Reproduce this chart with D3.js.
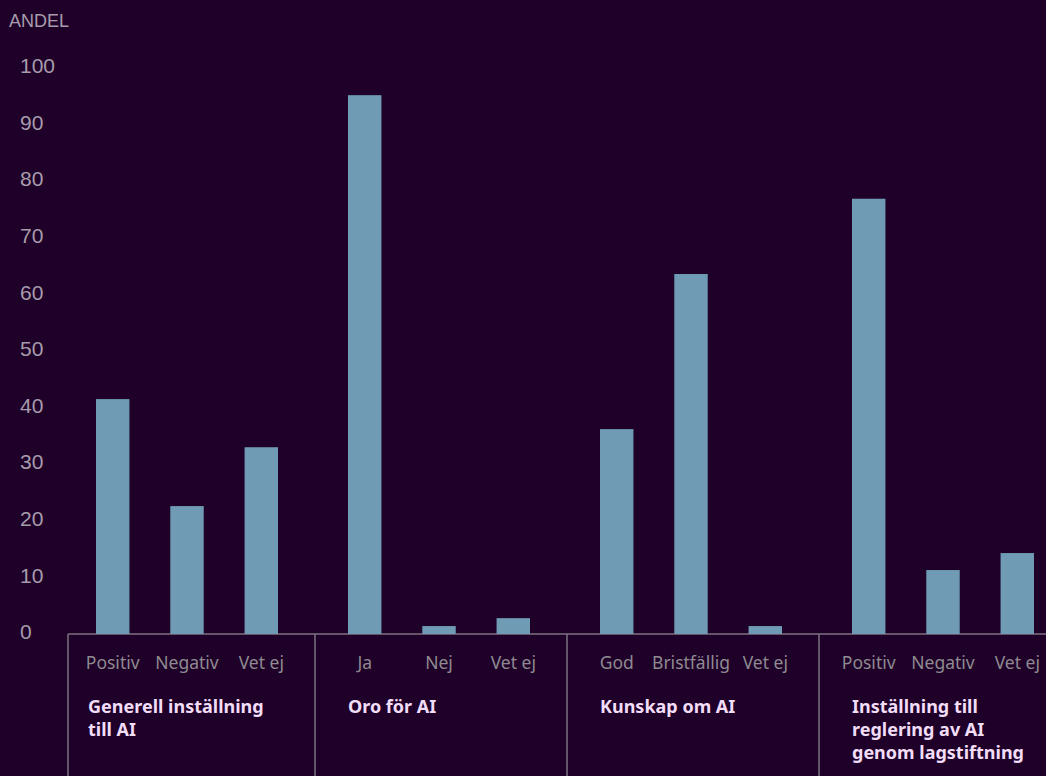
<!DOCTYPE html>
<html>
<head>
<meta charset="utf-8">
<script src="https://cdn.jsdelivr.net/npm/d3@7"></script>
<style>
  html, body { margin: 0; padding: 0; background: #1e0029; }
  svg { display: block; }
</style>
</head>
<body>
<svg id="chart" width="1046" height="776"></svg>
<script>
// ---- data ----
const groups = ["Generell inställning till AI", "Oro för AI", "Kunskap om AI", "Inställning till reglering av AI genom lagstiftning"];
const groupTitleLines = [
  ["Generell inställning", "till AI"],
  ["Oro för AI"],
  ["Kunskap om AI"],
  ["Inställning till", "reglering av AI", "genom lagstiftning"]
];
const subCategories = [
  ["Positiv", "Negativ", "Vet ej"],
  ["Ja", "Nej", "Vet ej"],
  ["God", "Bristfällig", "Vet ej"],
  ["Positiv", "Negativ", "Vet ej"]
];
const values = [
  [41.5, 22.6, 33.0],
  [95.2, 1.4, 2.8],
  [36.2, 63.6, 1.4],
  [76.9, 11.3, 14.3]
];
const yTicks = [0, 10, 20, 30, 40, 50, 60, 70, 80, 90, 100];
const yTitle = "ANDEL";

// ---- layout ----
const W = 1046, H = 776;
const svg = d3.select("#chart");
svg.append("rect").attr("width", W).attr("height", H).attr("fill", "#1e0029");

const y = d3.scaleLinear().domain([0, 100]).range([634, 68]);
const x0 = d3.scaleBand().domain(groups).range([63, 1071]).paddingInner(0).paddingOuter(0);
const x1 = d3.scaleBand().domain([0, 1, 2]).range([33, 215]).paddingInner(0.55).paddingOuter(0);

const sansAxis = "'Liberation Sans', Arial, sans-serif";
const sansCat = "'Noto Sans', 'Open Sans', sans-serif";

// y title
svg.append("text").attr("x", 9).attr("y", 27)
  .attr("fill", "#a79cab").attr("font-family", sansAxis).attr("font-size", 18)
  .text(yTitle);

// y tick labels
const yAxis = d3.axisLeft(y).tickValues(yTicks).tickSize(0).tickPadding(0);
const yg = svg.append("g").attr("transform", "translate(20,-2)").call(yAxis);
yg.select(".domain").remove();
yg.selectAll("text")
  .attr("text-anchor", "start")
  .attr("x", 0)
  .attr("fill", "#a79cab")
  .attr("font-family", sansAxis)
  .attr("font-size", 21);

// baseline
svg.append("line")
  .attr("x1", 68).attr("x2", W)
  .attr("y1", y(0)).attr("y2", y(0))
  .attr("stroke", "#7d7280").attr("stroke-width", 1.5);

// groups
const gs = svg.selectAll("g.grp").data(groups).join("g")
  .attr("class", "grp")
  .attr("transform", d => `translate(${x0(d)},0)`);

// separators
gs.append("line")
  .attr("x1", (d, i) => i === 0 ? 5 : 0).attr("x2", (d, i) => i === 0 ? 5 : 0)
  .attr("y1", y(0)).attr("y2", H)
  .attr("stroke", "#7d7280").attr("stroke-width", 1.5);

// bars
gs.selectAll("rect.bar").data((d, i) => values[i].map((v, j) => ({ v, j })))
  .join("rect").attr("class", "bar")
  .attr("x", d => x1(d.j))
  .attr("width", x1.bandwidth())
  .attr("y", d => y(d.v))
  .attr("height", d => y(0) - y(d.v))
  .attr("fill", "#6f9cb4");

// sub-category labels
gs.selectAll("text.sub").data((d, i) => subCategories[i].map((s, j) => ({ s, j })))
  .join("text").attr("class", "sub")
  .attr("x", d => x1(d.j) + x1.bandwidth() / 2)
  .attr("y", 669)
  .attr("text-anchor", "middle")
  .attr("fill", "#8f8a90")
  .attr("font-family", sansCat)
  .attr("font-size", 17.5)
  .text(d => d.s);

// group titles (one text per line)
gs.each(function (d, i) {
  const tx = x1(0) - (i === 0 ? 8 : 0);
  d3.select(this).selectAll("text.title").data(groupTitleLines[i]).join("text")
    .attr("class", "title")
    .attr("x", tx)
    .attr("y", (line, k) => 713 + k * 23)
    .attr("fill", "#f2ddf7")
    .attr("font-family", sansCat)
    .attr("font-weight", "bold")
    .attr("font-size", 18)
    .text(line => line);
});
</script>
</body>
</html>
